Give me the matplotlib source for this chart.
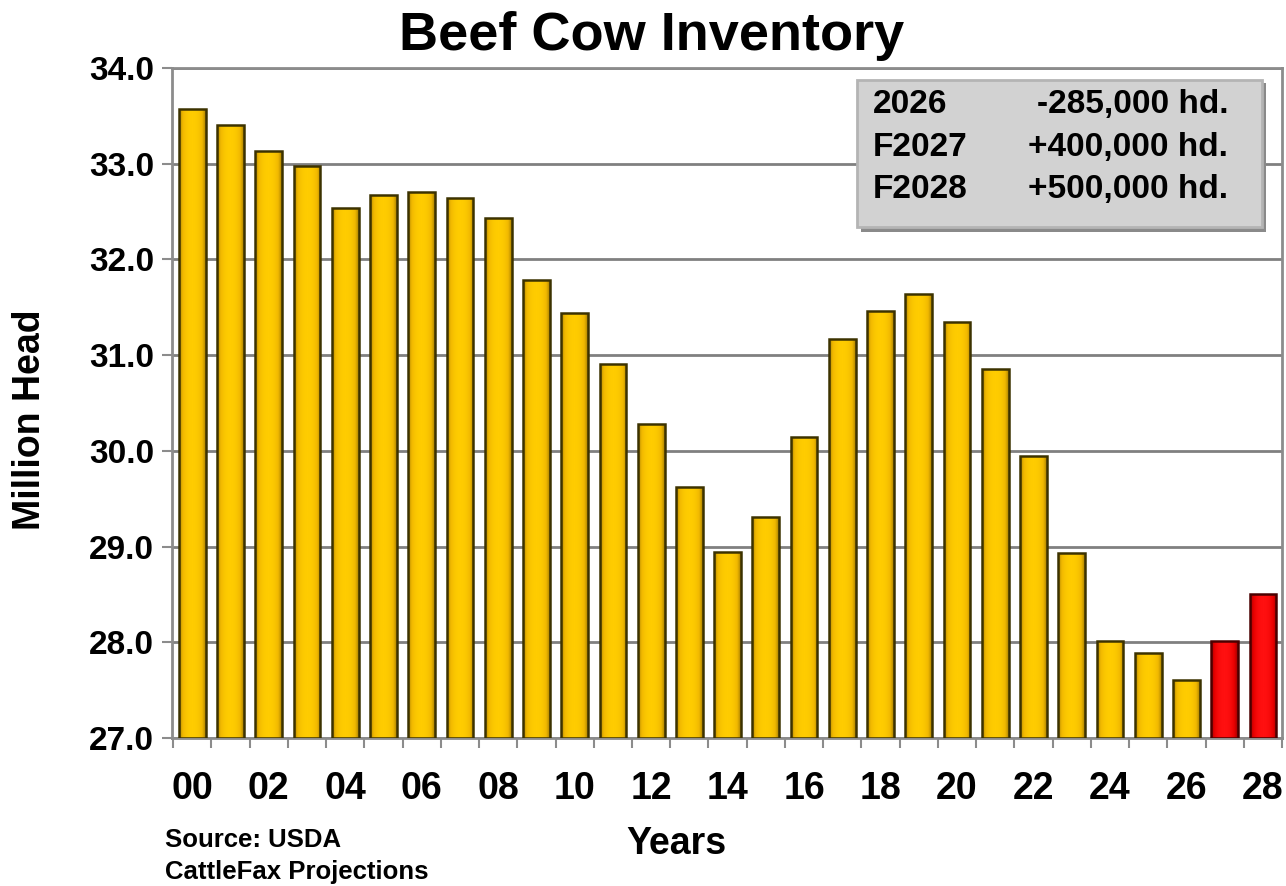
"""Beef cow inventory bar chart (USDA / CattleFax projections)."""

import matplotlib.pyplot as plt
import numpy as np
from matplotlib.colors import LinearSegmentedColormap
from matplotlib.patches import Rectangle

plt.rcParams["font.family"] = ["Liberation Sans", "DejaVu Sans"]
plt.rcParams["font.weight"] = "bold"
plt.rcParams["axes.labelweight"] = "bold"

# data (million head, Jan 1)
years = list(range(0, 29))
inventory = [
    33.57, 33.40, 33.13, 32.98, 32.54, 32.67, 32.70, 32.64, 32.43, 31.79,
    31.44, 30.91, 30.28, 29.62, 28.94, 29.31, 30.14, 31.17, 31.46, 31.64,
    31.35, 30.85, 29.95, 28.93, 28.01, 27.89, 27.61, 28.01, 28.50,
]
projected_years = [27, 28]
tick_years = years[::2]
tick_labels = [f"{y:02d}" for y in tick_years]
y_ticks = [27, 28, 29, 30, 31, 32, 33, 34]
box_years = ["2026", "F2027", "F2028"]
box_changes = ["-285,000 hd.", "+400,000 hd.", "+500,000 hd."]

GOLD = LinearSegmentedColormap.from_list("gold", ["#FFCC00", "#F0B800", "#A87E00"])
RED = LinearSegmentedColormap.from_list("red", ["#FF1010", "#E80000", "#9A0000"])
GRID_COLOR = "#808080"
SPINE_COLOR = "#8C8C8C"
BAR_WIDTH = 0.7
Y_MIN, Y_MAX = 27.0, 34.0

fig = plt.figure(figsize=(12.86, 8.86), dpi=100)
ax = fig.add_axes([0.1338, 0.167, 0.8631, 0.7563])

colors = ["red" if y in projected_years else "gold" for y in years]
bars = ax.bar(
    years,
    [v - Y_MIN for v in inventory],
    bottom=Y_MIN,
    width=BAR_WIDTH,
    color="none",
    edgecolor="#3C3200",
    linewidth=1.8,
    zorder=4,
)

# cylinder shading, clipped to each bar
shade = np.abs(np.linspace(-1, 1, 64)) ** 2.2
shade = np.vstack([shade, shade])
for rect, kind in zip(bars, colors):
    x0 = rect.get_x()
    x1 = x0 + rect.get_width()
    y0 = rect.get_y()
    y1 = y0 + rect.get_height()
    im = ax.imshow(
        shade,
        cmap=RED if kind == "red" else GOLD,
        extent=[x0, x1, y0, y1],
        aspect="auto",
        interpolation="bilinear",
        zorder=3,
    )
    im.set_clip_path(rect)
    if kind == "red":
        rect.set_edgecolor("#4A0000")

ax.set_xlim(-0.53, 28.5)
ax.set_ylim(Y_MIN, Y_MAX)

ax.set_yticks(y_ticks)
ax.set_yticklabels([f"{t:.1f}" for t in y_ticks])
ax.yaxis.grid(True, color=GRID_COLOR, linewidth=2, zorder=1)
ax.set_axisbelow(True)
ax.tick_params(
    axis="y", labelsize=24, length=7, width=1.5, color=SPINE_COLOR, pad=6
)

ax.set_xticks(tick_years)
ax.set_xticklabels(tick_labels)
ax.set_xticks(np.arange(-0.5, 29, 1), minor=True)
ax.tick_params(axis="x", which="major", labelsize=27, length=0, pad=24)
ax.tick_params(axis="x", which="minor", length=7, width=1.5, color=SPINE_COLOR)

for spine in ax.spines.values():
    spine.set_color(SPINE_COLOR)
    spine.set_linewidth(2)

ax.set_ylabel("Million Head", fontsize=27, fontweight="bold", va="center")
ax.yaxis.set_label_coords(-0.128, 0.475)
ax.set_xlabel("Years", fontsize=27, fontweight="bold", va="center")
ax.xaxis.set_label_coords(0.454, -0.158)

fig.text(0.507, 0.959, "Beef Cow Inventory", fontsize=39, ha="center", va="center")
fig.text(0.128, 0.052, "Source: USDA", fontsize=18.5, va="center")
fig.text(0.128, 0.016, "CattleFax Projections", fontsize=18.5, va="center")

# change summary box
fig.patches.append(
    Rectangle((0.6695, 0.7385), 0.3148, 0.168, transform=fig.transFigure,
              facecolor="#8A8A8A", edgecolor="none", zorder=5)
)
fig.patches.append(
    Rectangle((0.6664, 0.7440), 0.3149, 0.166, transform=fig.transFigure,
              facecolor="#D2D2D2", edgecolor="#B4B4B4", linewidth=2, zorder=6)
)
row_y = [0.8815, 0.833, 0.7856]
for label, change, y in zip(box_years, box_changes, row_y):
    fig.text(0.679, y, label, fontsize=24, va="center", zorder=7)
    fig.text(0.955, y, change, fontsize=24, va="center", ha="right", zorder=7)

fig.savefig("out.png", dpi=100)
